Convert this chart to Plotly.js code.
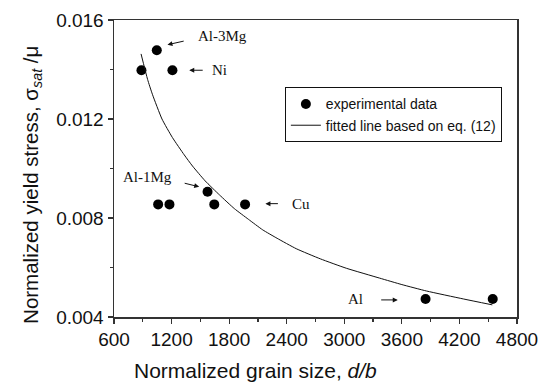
<!DOCTYPE html>
<html>
<head>
<meta charset="utf-8">
<script src="https://cdn.plot.ly/plotly-3.0.1.min.js"></script>
<style>html,body{margin:0;padding:0;background:#fff;}#chart{width:548px;height:382px;}</style>
</head>
<body>
<div id="chart"></div>
<script>
// Experimental data (normalized grain size d/b, normalized yield stress)
const expX = [886, 1046, 1209, 1060, 1178, 1575, 1645, 1966, 3847, 4547];
const expY = [0.01397, 0.01478, 0.01397, 0.00855, 0.00855, 0.00906, 0.00855, 0.00855, 0.00473, 0.00473];

// Fitted line based on eq. (12)
const fitX = [882, 950, 1000, 1100, 1209, 1332, 1418, 1550, 1700, 1854, 2000, 2150, 2300, 2499, 2750, 3021, 3369, 3600, 3857, 4240, 4543];
const fitY = [0.01463, 0.01360, 0.01300, 0.01200, 0.01125, 0.01055, 0.01010, 0.00950, 0.00893, 0.00838, 0.00795, 0.00752, 0.00718, 0.00676, 0.00635, 0.00597, 0.00557, 0.00531, 0.00505, 0.00473, 0.00449];

// Material labels
const labelText = ["Al-3Mg", "Ni", "Al-1Mg", "Cu", "Al"];
const labelX = [1729, 1697, 945, 2544, 3113];
const labelY = [0.01535, 0.01397, 0.00964, 0.00858, 0.00473];
// arrows: tail -> head
const arrowTailX = [1342, 1540, 1321, 2324, 3369];
const arrowTailY = [0.01516, 0.01397, 0.00942, 0.00858, 0.00469];
const arrowHeadX = [1157, 1384, 1488, 2178, 3557];
const arrowHeadY = [0.01500, 0.01397, 0.00926, 0.00858, 0.00469];

const titleFont = {family: 'Liberation Sans, Arial, sans-serif', color: '#111'};
const annotations = [];
for (let i = 0; i < labelText.length; i++) {
  annotations.push({
    x: labelX[i], y: labelY[i], xref: 'x', yref: 'y', text: labelText[i],
    showarrow: false, font: {family: 'Liberation Serif, Times New Roman, serif', size: 15, color: '#111'}
  });
  annotations.push({
    x: arrowHeadX[i], y: arrowHeadY[i], xref: 'x', yref: 'y',
    ax: arrowTailX[i], ay: arrowTailY[i], axref: 'x', ayref: 'y',
    text: '', showarrow: true, arrowhead: 2, arrowsize: 1, arrowwidth: 1, arrowcolor: '#111', standoff: 0, startstandoff: 0
  });
}
// axis titles
annotations.push({
  xref: 'paper', yref: 'paper', x: 0.352, y: -0.179, xanchor: 'center', yanchor: 'middle',
  text: 'Normalized grain size, <i>d/b</i>', showarrow: false,
  font: Object.assign({size: 21}, titleFont)
});
annotations.push({
  xref: 'paper', yref: 'paper', x: -0.205, y: 0.446, xanchor: 'center', yanchor: 'middle',
  text: 'Normalized yield stress, σ<sub><i>sat</i></sub> /μ', showarrow: false, textangle: -90,
  font: Object.assign({size: 20.5}, titleFont)
});

const traces = [
  {
    x: expX, y: expY, type: 'scatter', mode: 'markers', name: 'experimental data',
    marker: {color: '#000', size: 10}
  },
  {
    x: fitX, y: fitY, type: 'scatter', mode: 'lines', name: 'fitted line based on eq. (12)',
    line: {color: '#111', width: 1, shape: 'spline', smoothing: 0.5}
  }
];

const axisCommon = {
  showgrid: false, zeroline: false, showline: true, linecolor: '#333', linewidth: 1.5,
  mirror: true, ticks: 'outside', ticklen: 5, tickwidth: 1.2, tickcolor: '#333',
  tickfont: {family: 'Liberation Sans, Arial, sans-serif', size: 19, color: '#111'}
};

const layout = {
  width: 548, height: 382,
  margin: {l: 114, r: 31, t: 20, b: 65},
  paper_bgcolor: '#fff', plot_bgcolor: '#fff',
  showlegend: true,
  legend: {
    x: 0.424, y: 0.773, xanchor: 'left', yanchor: 'top',
    bordercolor: '#111', borderwidth: 1, bgcolor: '#fff',
    font: {family: 'Liberation Sans, Arial, sans-serif', size: 14, color: '#111'},
    tracegroupgap: 0, itemwidth: 30
  },
  xaxis: Object.assign({}, axisCommon, {
    range: [600, 4800], tick0: 600, dtick: 600,
    minor: {dtick: 300, tick0: 600, ticks: 'outside', ticklen: 3, tickcolor: '#333'}
  }),
  yaxis: Object.assign({}, axisCommon, {
    range: [0.004, 0.016], tick0: 0.004, dtick: 0.004, tickformat: '.3f',
    minor: {dtick: 0.002, tick0: 0.004, ticks: 'outside', ticklen: 3, tickcolor: '#333'}
  }),
  annotations: annotations
};

Plotly.newPlot('chart', traces, layout, {displayModeBar: false, staticPlot: true});
</script>
</body>
</html>
